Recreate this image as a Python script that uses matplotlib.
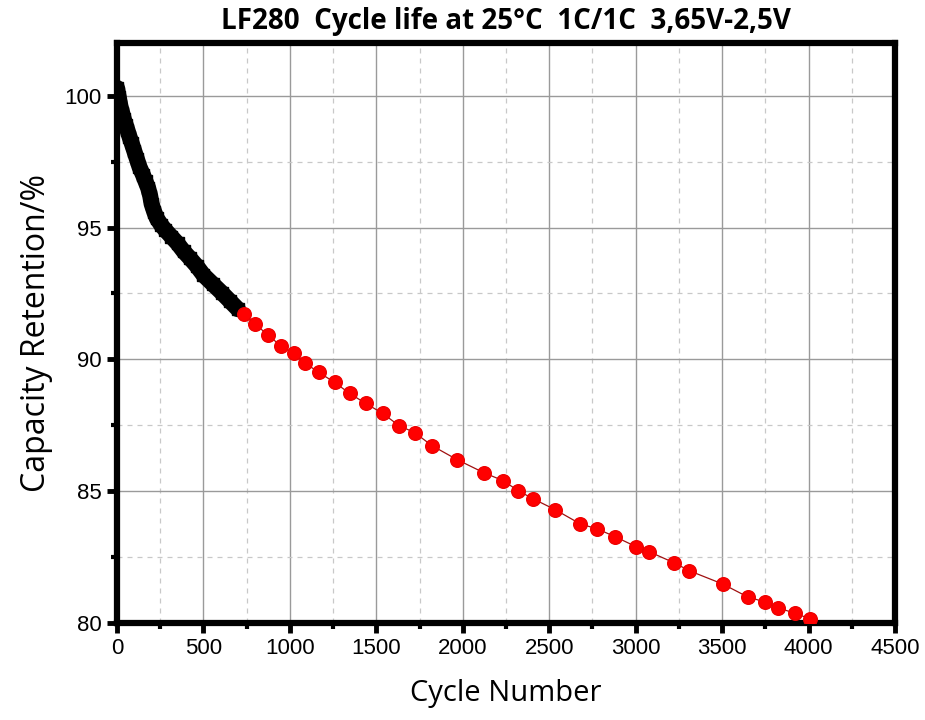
import matplotlib
matplotlib.use('Agg')

import numpy as np
import matplotlib.pyplot as plt
from matplotlib.ticker import MultipleLocator

# --- data ---
black_cycles = [0, 5, 10, 20, 30, 40, 50, 60, 72, 85, 100, 115, 130, 150, 165, 180, 192,
                200, 215, 230, 255, 280, 315, 350, 385, 420, 460, 500, 555, 610, 655, 700]
black_ret = [100.3, 100.1, 99.95, 99.6, 99.35, 99.1, 98.9, 98.7, 98.45, 98.2, 97.9, 97.6,
             97.3, 97.0, 96.75, 96.5, 96.2, 95.9, 95.6, 95.35, 95.1, 94.9, 94.65, 94.4,
             94.1, 93.85, 93.55, 93.2, 92.85, 92.5, 92.2, 91.9]

red_cycles = [736, 800, 876, 951, 1021, 1090, 1166, 1258, 1345, 1438, 1537, 1630, 1722,
              1821, 1966, 2122, 2233, 2320, 2407, 2534, 2679, 2778, 2882, 3004, 3079,
              3224, 3311, 3503, 3648, 3746, 3822, 3920, 4010]
red_ret = [91.71, 91.33, 90.91, 90.49, 90.23, 89.85, 89.51, 89.13, 88.71, 88.33, 87.95,
           87.49, 87.22, 86.73, 86.20, 85.70, 85.40, 85.02, 84.71, 84.30, 83.76, 83.57,
           83.27, 82.89, 82.70, 82.28, 81.98, 81.48, 80.99, 80.80, 80.57, 80.38, 80.15]

title = 'LF280  Cycle life at 25°C  1C/1C  3,65V-2,5V'
x_ticks = [0, 500, 1000, 1500, 2000, 2500, 3000, 3500, 4000, 4500]
y_ticks = [80, 85, 90, 95, 100]

fig = plt.figure(figsize=(9.25, 7.2), dpi=100)
ax = fig.add_axes([0.1265, 0.1347, 0.8411, 0.8056])

ax.plot(black_cycles, black_ret, color='black', lw=11.5, marker='s', ms=9,
        solid_capstyle='round', solid_joinstyle='round', zorder=3)
ax.plot(red_cycles, red_ret, color='#a01010', lw=0.9, zorder=4)
ax.plot(red_cycles, red_ret, ls='none', marker='o', ms=9.8, color='#ff0000',
        markeredgecolor='#ee0000', zorder=5)

ax.set_xlim(0, 4500)
ax.set_ylim(80, 102)
ax.set_xticks(x_ticks)
ax.set_yticks(y_ticks)
ax.xaxis.set_minor_locator(MultipleLocator(250))
ax.yaxis.set_minor_locator(MultipleLocator(2.5))

ax.grid(which='major', color='#9a9a9a', lw=1.0, ls='-')
ax.grid(which='minor', color='#c8c8c8', lw=0.9, ls=(0, (4, 4)))
ax.set_axisbelow(True)

for s in ax.spines.values():
    s.set_linewidth(4.5)
    s.set_color('black')

tick_font = ['Liberation Sans Narrow', 'Liberation Sans', 'DejaVu Sans']
ax.tick_params(which='major', direction='out', length=7, width=3.5, labelsize=16,
               pad=4, top=False, right=False)
ax.tick_params(which='minor', direction='out', length=4, width=3, top=False, right=False)
for lab in ax.get_xticklabels() + ax.get_yticklabels():
    lab.set_family(tick_font)

ax.set_xlabel('Cycle Number', fontsize=21, family='Open Sans', labelpad=14)
ax.set_ylabel('Capacity Retention/%', fontsize=23, family='Open Sans', labelpad=8)
ax.set_title(title, fontsize=20, family='Open Sans', fontweight='bold', pad=10)

fig.savefig('out.png', dpi=100)
